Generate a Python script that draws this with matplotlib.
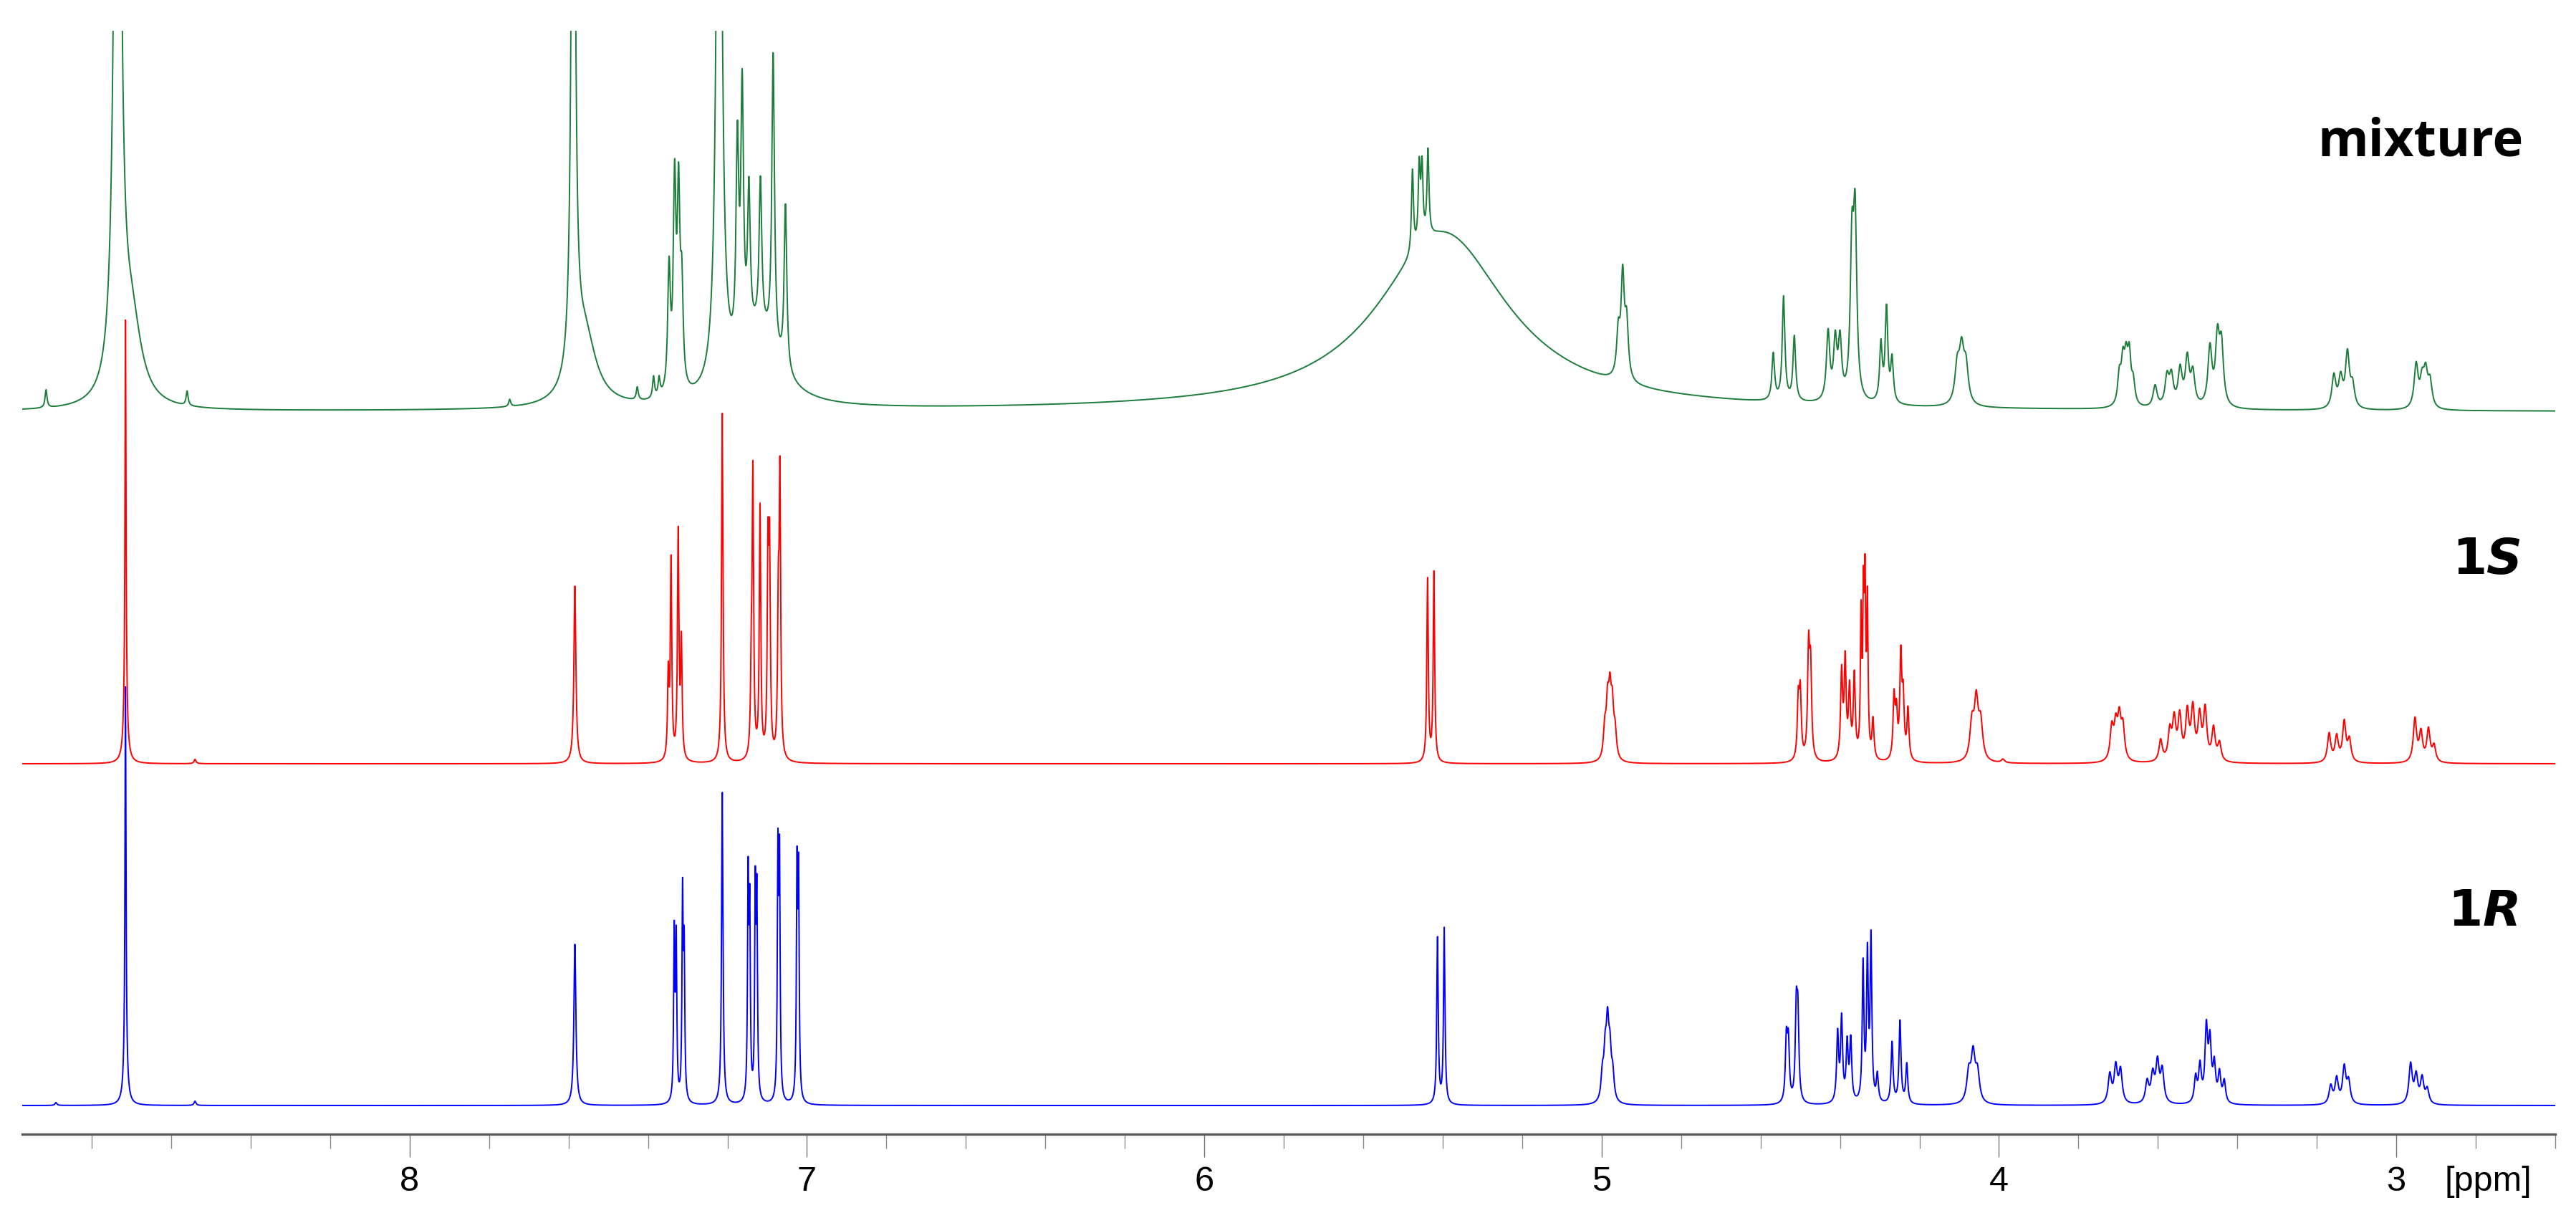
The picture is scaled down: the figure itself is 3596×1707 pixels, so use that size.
import numpy as np
import matplotlib
matplotlib.use("Agg")
import matplotlib.pyplot as plt
from matplotlib import font_manager

# peak tables: position (ppm), height, half width (ppm)
# heights are in output pixels above each trace's baseline

# mixture (green)
mix_ppm = [8.915, 8.56, 8.735, 8.70, 7.748, 7.427, 7.386, 7.372,
           7.588, 7.56, 7.347, 7.333, 7.323, 7.315, 7.221,
           7.175, 7.163, 7.146, 7.117, 7.085, 7.054, 7.12,
           5.40, 5.476, 5.459, 5.452, 5.437,
           4.958, 4.947, 4.937,
           4.568, 4.542, 4.515, 4.430, 4.412, 4.400, 4.370, 4.362,
           4.297, 4.283, 4.269, 4.105, 4.094, 4.083,
           3.697, 3.688, 3.680, 3.672, 3.662,
           3.607, 3.577, 3.566, 3.544, 3.526, 3.512,
           3.469, 3.450, 3.440,
           3.157, 3.140, 3.123, 3.110,
           2.950, 2.935, 2.926, 2.915]
mix_height = [25, 20, 1500, 110, 10, 18, 30, 25,
              1200, 100, 170, 280, 260, 130, 1200,
              280, 350, 200, 205, 410, 230, 100,
              250, 115, 105, 100, 120,
              60, 140, 75,
              65, 145, 90, 95, 80, 80, 200, 240,
              80, 130, 60, 50, 70, 50,
              40, 55, 55, 65, 30,
              30, 40, 40, 50, 65, 45,
              80, 90, 80,
              45, 40, 75, 30,
              60, 35, 45, 35]
mix_width = [0.003, 0.003, 0.008, 0.03, 0.003, 0.003, 0.003, 0.003,
             0.005, 0.035, 0.004, 0.004, 0.004, 0.004, 0.007,
             0.004, 0.004, 0.004, 0.004, 0.004, 0.004, 0.06,
             0.2, 0.003, 0.003, 0.003, 0.003,
             0.005, 0.005, 0.005,
             0.004, 0.004, 0.004, 0.005, 0.005, 0.005, 0.005, 0.005,
             0.004, 0.004, 0.004, 0.007, 0.007, 0.007,
             0.005, 0.005, 0.005, 0.005, 0.005,
             0.006, 0.006, 0.006, 0.006, 0.006, 0.006,
             0.006, 0.006, 0.006,
             0.006, 0.006, 0.006, 0.006,
             0.006, 0.006, 0.006, 0.006]

# 1S (red)
s_ppm = [8.715, 8.715, 8.54, 7.584,
         7.349, 7.342, 7.324, 7.316, 7.213,
         7.140, 7.136, 7.118, 7.098, 7.094, 7.072, 7.068,
         5.438, 5.422,
         4.992, 4.985, 4.979, 4.973, 4.966,
         4.505, 4.500, 4.479, 4.474,
         4.396, 4.387, 4.376, 4.364,
         4.347, 4.341, 4.337, 4.331, 4.317,
         4.264, 4.258, 4.247, 4.241, 4.229,
         4.068, 4.057, 4.046, 3.99,
         3.716, 3.706, 3.697, 3.688,
         3.593, 3.570, 3.559, 3.545, 3.526, 3.512, 3.495, 3.481, 3.460, 3.445,
         3.169, 3.150, 3.131, 3.118,
         2.953, 2.938, 2.919, 2.905]
s_height = [540, 80, 6, 248,
            115, 275, 315, 160, 488,
            110, 390, 350, 270, 270, 190, 380,
            255, 265,
            40, 70, 80, 65, 35,
            80, 90, 150, 120,
            120, 135, 95, 115,
            190, 200, 220, 210, 55,
            85, 60, 140, 80, 70,
            50, 80, 50, 5,
            45, 45, 55, 45,
            30, 40, 55, 60, 65, 70, 60, 70, 45, 25,
            40, 35, 55, 30,
            60, 40, 45, 22]
s_width = [0.0015, 0.005, 0.003, 0.003,
           0.0022, 0.0022, 0.0022, 0.0022, 0.0022,
           0.0022, 0.0022, 0.0022, 0.0022, 0.0022, 0.0022, 0.0022,
           0.0022, 0.0022,
           0.004, 0.004, 0.004, 0.004, 0.004,
           0.003, 0.003, 0.003, 0.003,
           0.003, 0.003, 0.003, 0.003,
           0.002, 0.002, 0.002, 0.002, 0.003,
           0.003, 0.003, 0.003, 0.003, 0.003,
           0.006, 0.006, 0.006, 0.005,
           0.005, 0.005, 0.005, 0.005,
           0.005, 0.005, 0.005, 0.005, 0.005, 0.005, 0.005, 0.005, 0.005, 0.005,
           0.005, 0.005, 0.005, 0.005,
           0.005, 0.005, 0.005, 0.005]

# 1R (blue)
r_ppm = [8.715, 8.715, 8.89, 8.54, 7.584,
         7.334, 7.329, 7.313, 7.309, 7.213,
         7.148, 7.144, 7.130, 7.126, 7.073, 7.069, 7.025, 7.021,
         5.413, 5.396,
         4.998, 4.991, 4.985, 4.979, 4.972,
         4.535, 4.530, 4.510, 4.506,
         4.406, 4.396, 4.382, 4.373,
         4.342, 4.331, 4.322, 4.306,
         4.269, 4.249, 4.232,
         4.076, 4.065, 4.054,
         3.721, 3.706, 3.694,
         3.627, 3.613, 3.601, 3.589,
         3.505, 3.494, 3.478, 3.469, 3.458, 3.445, 3.433,
         3.165, 3.150, 3.131, 3.120,
         2.964, 2.950, 2.935, 2.922]
r_height = [520, 65, 4, 6, 225,
            230, 220, 280, 200, 436,
            300, 250, 280, 270, 330, 320, 310, 300,
            232, 245,
            35, 60, 95, 60, 35,
            85, 80, 120, 110,
            95, 115, 80, 85,
            190, 200, 225, 38,
            85, 115, 55,
            40, 65, 40,
            40, 50, 45,
            30, 38, 55, 45,
            35, 50, 100, 80, 50, 40, 30,
            25, 35, 50, 30,
            55, 38, 35, 20]
r_width = [0.0015, 0.005, 0.003, 0.003, 0.003,
           0.0018, 0.0018, 0.0018, 0.0018, 0.0022,
           0.0018, 0.0018, 0.0018, 0.0018, 0.0018, 0.0018, 0.0018, 0.0018,
           0.0022, 0.0022,
           0.004, 0.004, 0.004, 0.004, 0.004,
           0.003, 0.003, 0.003, 0.003,
           0.003, 0.003, 0.003, 0.003,
           0.0025, 0.0025, 0.0025, 0.003,
           0.003, 0.003, 0.003,
           0.006, 0.006, 0.006,
           0.005, 0.005, 0.005,
           0.005, 0.005, 0.005, 0.005,
           0.004, 0.004, 0.004, 0.004, 0.004, 0.004, 0.004,
           0.005, 0.005, 0.005, 0.005,
           0.005, 0.005, 0.005, 0.005]

traces = [("1R", r_ppm, r_height, r_width, 40, "#0000ff"),
          ("1S", s_ppm, s_height, s_width, 517, "#ff0000"),
          ("mixture", mix_ppm, mix_height, mix_width, 1008, "#1c7d3a")]

major_ticks = [3, 4, 5, 6, 7, 8]


def spectrum(x, pos, h, w):
    y = np.zeros_like(x)
    for p, a, g in zip(pos, h, w):
        y += a / (1 + ((x - p) / g) ** 2)
    return y


W, H = 3596, 1707
fig = plt.figure(figsize=(W / 100, H / 100), dpi=100)
ax = fig.add_axes([31 / W, (H - 1583) / H, 3536 / W, 1540 / H])

x = np.linspace(2.55, 9.0, 26000)
for name, pos, h, w, base, col in traces:
    ax.plot(x, base + spectrum(x, pos, h, w), color=col, lw=1.4)

ax.set_xlim(8.975, 2.604)
ax.set_ylim(0, 1540)

for s in ["left", "right", "top"]:
    ax.spines[s].set_visible(False)
ax.spines["bottom"].set_color("#5a5a5a")
ax.spines["bottom"].set_linewidth(2.4)
ax.yaxis.set_visible(False)

# condensed face for the scale if there is one
tick_font = "Liberation Sans"
tick_size = 35
try:
    font_manager.findfont("Liberation Sans Narrow", fallback_to_default=False)
    tick_font = "Liberation Sans Narrow"
    tick_size = 37
except Exception:
    pass

ax.set_xticks(major_ticks)
ax.set_xticklabels([str(t) for t in major_ticks], fontsize=tick_size, family=tick_font)
ax.set_xticks(np.arange(2.6, 9.0, 0.2), minor=True)
ax.tick_params(axis="x", which="major", direction="out", length=23, width=1.0,
               color="#777777", pad=9)
ax.tick_params(axis="x", which="minor", direction="out", length=14.5, width=1.0,
               color="#8a8a8a")
ppm_label = ax.text(2.878, 0.0, "[ppm]", transform=ax.get_xaxis_transform(),
                    ha="left", va="top", fontsize=tick_size, family=tick_font)
fig.canvas.draw()
top_px = ax.get_xticklabels()[0].get_window_extent().y1
ppm_label.set_y(ax.transAxes.inverted().transform((0, top_px))[1])

# trace names
fig.text(3523 / W, 1 - 218 / H, "mixture", ha="right", va="baseline",
         fontsize=52, fontweight="bold", family="Open Sans")

renderer = fig.canvas.get_renderer()
for num, letter, xr, yb in [("1", "S", 3521, 801), ("1", "R", 3519, 1292)]:
    t2 = fig.text(xr / W, 1 - yb / H, letter, ha="right", va="baseline",
                  fontsize=50, fontweight="bold", style="italic", family="DejaVu Sans")
    bb = t2.get_window_extent(renderer)
    fig.text(bb.x0 / W, 1 - yb / H, num, ha="right", va="baseline",
             fontsize=50, fontweight="bold", family="DejaVu Sans")

fig.savefig("out.png", dpi=100)
